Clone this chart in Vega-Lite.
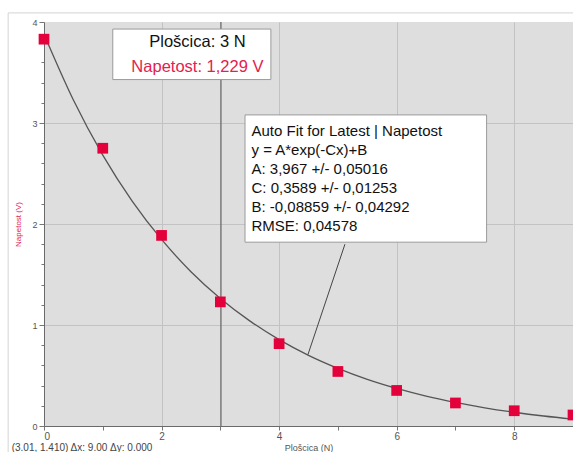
{
  "$schema": "https://vega.github.io/schema/vega-lite/v6.json",
  "width": 529,
  "height": 404,
  "autosize": "none",
  "padding": {"left": 44, "top": 22, "right": 0, "bottom": 26},
  "background": "#ffffff",
  "view": {"fill": "#dedede", "stroke": null},
  "config": {"font": "Liberation Sans"},
  "datasets": {
    "points": [
      {"x": 0, "y": 3.83}, {"x": 1, "y": 2.75}, {"x": 2, "y": 1.887}, {"x": 3, "y": 1.229},
      {"x": 4, "y": 0.815}, {"x": 5, "y": 0.54}, {"x": 6, "y": 0.352}, {"x": 7, "y": 0.228},
      {"x": 8, "y": 0.151}, {"x": 9, "y": 0.109}
    ],
    "fit": [
      {"x": 0, "y": 3.878}, {"x": 0.5, "y": 3.227}, {"x": 1, "y": 2.682}, {"x": 1.5, "y": 2.227},
      {"x": 2, "y": 1.847}, {"x": 2.5, "y": 1.528}, {"x": 3, "y": 1.263}, {"x": 3.5, "y": 1.041},
      {"x": 4, "y": 0.855}, {"x": 4.5, "y": 0.7}, {"x": 5, "y": 0.571}, {"x": 5.5, "y": 0.462},
      {"x": 6, "y": 0.372}, {"x": 6.5, "y": 0.296}, {"x": 7, "y": 0.233}, {"x": 7.5, "y": 0.18},
      {"x": 8, "y": 0.136}, {"x": 8.5, "y": 0.099}, {"x": 9, "y": 0.068}
    ],
    "boxes": [
      {"x": 1.17, "x2": 3.86, "y": 3.93, "y2": 3.43},
      {"x": 3.42, "x2": 7.53, "y": 3.08, "y2": 1.82}
    ],
    "frame": [
      {"x": -0.61, "x2": 9.2, "y": 4.09, "y2": 4.09},
      {"x": -0.61, "x2": -0.61, "y": 4.09, "y2": -0.3}
    ]
  },
  "layer": [
    {
      "data": {"values": [{"x": 3.01}]},
      "mark": {"type": "rule", "color": "#6a6a6a", "strokeWidth": 1.3},
      "encoding": {
        "x": {
          "field": "x", "type": "quantitative",
          "scale": {"domain": [0, 9], "nice": false, "zero": false},
          "axis": {
            "values": [0, 1, 2, 3, 4, 5, 6, 7, 8, 9],
            "tickCount": 20,
            "format": "d",
            "labelExpr": "datum.value % 2 === 0 ? datum.label : ''",
            "labelOverlap": false,
            "grid": true,
            "gridColor": {"condition": {"test": "datum.value % 2 === 0 && datum.value > 0", "value": "#c2c2c2"}, "value": "transparent"},
            "gridWidth": 1,
            "domainColor": "#6a6a6a",
            "tickColor": "#777777",
            "tickSize": 4,
            "labelFont": "Liberation Sans",
            "labelFontSize": 10,
            "labelColor": "#555555",
            "labelPadding": 1,
            "title": "Plošcica (N)",
            "titleFont": "Liberation Sans",
            "titleFontSize": 9,
            "titleFontWeight": "normal",
            "titleColor": "#555555",
            "titlePadding": 2
          }
        }
      }
    },
    {
      "data": {"values": [{"x": 0, "y": 0}]},
      "mark": {"type": "point", "opacity": 0},
      "encoding": {
        "x": {"field": "x", "type": "quantitative"},
        "y": {
          "field": "y", "type": "quantitative",
          "scale": {"domain": [0, 4], "nice": false},
          "axis": {
            "values": [0, 0.2, 0.4, 0.6, 0.8, 1, 1.2, 1.4, 1.6, 1.8, 2, 2.2, 2.4, 2.6, 2.8, 3, 3.2, 3.4, 3.6, 3.8, 4],
            "tickCount": 40,
            "format": "~g",
            "labelExpr": "datum.value % 1 === 0 ? datum.label : ''",
            "labelOverlap": false,
            "grid": true,
            "gridColor": {"condition": {"test": "datum.value % 1 === 0 && datum.value > 0 && datum.value < 4", "value": "#c2c2c2"}, "value": "transparent"},
            "domainColor": "#6a6a6a",
            "tickColor": "#777777",
            "tickSize": {"condition": {"test": "datum.value % 1 === 0", "value": 5}, "value": 3},
            "labelFont": "Liberation Sans",
            "labelFontSize": 9,
            "labelColor": "#555555",
            "labelPadding": 2,
            "title": "Napetost (V)",
            "titleFont": "Liberation Sans",
            "titleFontSize": 8,
            "titleFontWeight": "normal",
            "titleColor": "#e3214f",
            "titlePadding": 9
          }
        }
      }
    },
    {
      "data": {"name": "frame"},
      "mark": {"type": "rule", "color": "#d4d4d4", "strokeWidth": 1, "clip": false},
      "encoding": {
        "x": {"field": "x", "type": "quantitative"},
        "x2": {"field": "x2"},
        "y": {"field": "y", "type": "quantitative"},
        "y2": {"field": "y2"}
      }
    },
    {
      "data": {"name": "fit"},
      "mark": {"type": "line", "color": "#555555", "strokeWidth": 1.3, "interpolate": "monotone"},
      "encoding": {
        "x": {"field": "x", "type": "quantitative"},
        "y": {"field": "y", "type": "quantitative"}
      }
    },
    {
      "data": {"name": "points"},
      "mark": {"type": "point", "shape": "square", "filled": true, "size": 115, "color": "#e4003a", "opacity": 1},
      "encoding": {
        "x": {"field": "x", "type": "quantitative"},
        "y": {"field": "y", "type": "quantitative"}
      }
    },
    {
      "data": {"name": "boxes"},
      "mark": {"type": "rect", "fill": "#ffffff", "stroke": "#9a9a9a", "strokeWidth": 1},
      "encoding": {
        "x": {"field": "x", "type": "quantitative"},
        "x2": {"field": "x2"},
        "y": {"field": "y", "type": "quantitative"},
        "y2": {"field": "y2"}
      }
    },
    {
      "data": {"values": [
        {"x": 2.61, "y": 3.805, "t": "Plošcica: 3 N", "c": "black"},
        {"x": 2.61, "y": 3.557, "t": "Napetost: 1,229 V", "c": "red"}
      ]},
      "mark": {"type": "text", "align": "center", "baseline": "middle", "fontSize": 16.5, "font": "Liberation Sans"},
      "encoding": {
        "x": {"field": "x", "type": "quantitative"},
        "y": {"field": "y", "type": "quantitative"},
        "text": {"field": "t"},
        "color": {"field": "c", "type": "nominal", "scale": {"domain": ["black", "red"], "range": ["#111111", "#e3214f"]}, "legend": null}
      }
    },
    {
      "data": {"values": [
        {"x": 3.53, "y": 2.917, "t": "Auto Fit for  Latest | Napetost\ny = A*exp(-Cx)+B\nA: 3,967 +/- 0,05016\nC: 0,3589 +/- 0,01253\nB: -0,08859 +/- 0,04292\nRMSE: 0,04578"}
      ]},
      "mark": {"type": "text", "align": "left", "baseline": "middle", "fontSize": 15, "font": "Liberation Sans", "lineBreak": "\n", "lineHeight": 19, "color": "#111111"},
      "encoding": {
        "x": {"field": "x", "type": "quantitative"},
        "y": {"field": "y", "type": "quantitative"},
        "text": {"field": "t"}
      }
    },
    {
      "data": {"values": [{"x": 5.12, "y": 1.8, "x2": 4.49, "y2": 0.706}]},
      "mark": {"type": "rule", "color": "#444444", "strokeWidth": 1},
      "encoding": {
        "x": {"field": "x", "type": "quantitative"},
        "x2": {"field": "x2"},
        "y": {"field": "y", "type": "quantitative"},
        "y2": {"field": "y2"}
      }
    },
    {
      "data": {"values": [{"x": -0.55, "y": -0.215, "t": "(3.01, 1.410) Δx: 9.00 Δy: 0.000"}]},
      "mark": {"type": "text", "align": "left", "baseline": "middle", "fontSize": 10, "font": "Liberation Sans", "color": "#444444", "clip": false},
      "encoding": {
        "x": {"field": "x", "type": "quantitative"},
        "y": {"field": "y", "type": "quantitative"},
        "text": {"field": "t"}
      }
    }
  ]
}
